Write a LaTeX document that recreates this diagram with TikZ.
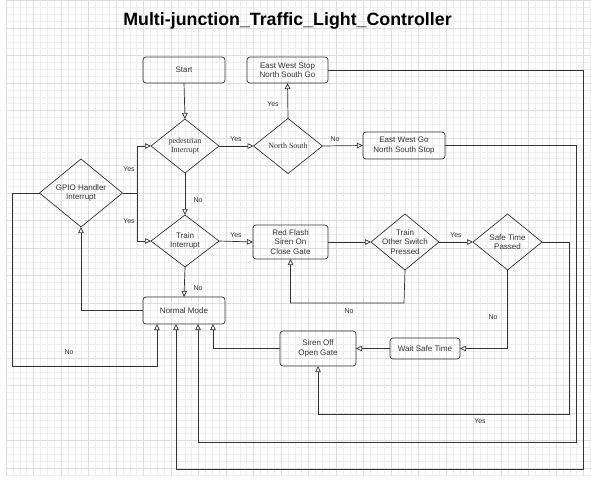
\documentclass[tikz,border=0pt]{standalone}
\usepackage{fontspec}
\setmainfont{Liberation Sans}
\newfontfamily\serifx{Liberation Serif}
\usetikzlibrary{shapes.geometric,arrows.meta,calc}
\definecolor{ln}{HTML}{333333}
\definecolor{gridminor}{HTML}{EEEEEE}
\definecolor{gridmajor}{HTML}{DDDDDD}
\tikzset{
  box/.style={draw=ln, line width=0.7pt, rounded corners=3pt, inner sep=0pt, outer sep=0pt,
    align=center, font=\fontsize{8}{9.5}\selectfont, text=ln},
  dia/.style={draw=ln, line width=0.7pt, diamond, inner sep=0pt, outer sep=0pt},
  arr/.style={draw=ln, line width=0.7pt, -{Triangle[open,length=6pt,width=5.5pt]}},
  lnk/.style={draw=ln, line width=0.7pt},
  lbl/.style={font=\fontsize{7}{8}\selectfont, text=ln, inner sep=0pt},
  dtext/.style={align=center, font=\fontsize{8}{9.5}\selectfont, text=ln}
}
\begin{document}
\begin{tikzpicture}[x=1pt,y=-1pt]
\useasboundingbox (0,0) rectangle (591,498);
% grid
\begin{scope}
\clip (6,0) rectangle (591,476);
\foreach \i in {0,...,86} {\draw[gridminor, line width=0.4pt] ({6+\i*6.875},0) -- ({6+\i*6.875},476);}
\foreach \j in {0,...,70} {\draw[gridminor, line width=0.4pt] (6,{0.5+\j*6.875}) -- (591,{0.5+\j*6.875});}
\foreach \i in {0,...,22} {\draw[gridmajor, line width=0.5pt] ({6+\i*27.5},0) -- ({6+\i*27.5},476);}
\foreach \j in {0,...,18} {\draw[gridmajor, line width=0.5pt] (6,{0.5+\j*27.5}) -- (591,{0.5+\j*27.5});}
\end{scope}
% title
\node[anchor=base, font=\fontsize{17.8}{20}\selectfont\bfseries, inner sep=0pt] (title) at (287.5,25) {Multi-junction\_Traffic\_Light\_Controller};

% nodes
\node[box, minimum width=82pt, minimum height=26pt] (start) at (184,70) {Start};
\node[dia, minimum width=68pt, minimum height=54pt,
  label={[dtext, font=\serifx\fontsize{8}{9.5}\selectfont]center:pedestrian\\Interrupt}] (ped) at (185,146) {};
\node[dia, minimum width=69pt, minimum height=55pt,
  label={[dtext, font=\serifx\fontsize{8}{9.5}\selectfont]center:North South}] (ns) at (288,146) {};
\node[box, minimum width=81pt, minimum height=26pt] (ewstop) at (287.5,70) {East West Stop\\North South Go};
\node[box, minimum width=82pt, minimum height=27pt] (ewgo) at (404,145.5) {East West Go\\North South Stop};
\node[dia, minimum width=83pt, minimum height=68pt,
  label={[dtext]center:GPIO Handler\\Interrupt}] (gpio) at (81,193) {};
\node[dia, minimum width=68pt, minimum height=52pt,
  label={[dtext]center:Train\\Interrupt}] (train) at (185,241) {};
\node[box, minimum width=75pt, minimum height=34pt] (red) at (290.5,242) {Red Flash\\Siren On\\Close Gate};
\node[dia, minimum width=68pt, minimum height=56pt,
  label={[dtext]center:Train\\Other Switch\\Pressed}] (tos) at (405,242) {};
\node[dia, minimum width=69pt, minimum height=56pt,
  label={[dtext]center:Safe Time\\Passed}] (safe) at (507.5,242) {};
\node[box, minimum width=82pt, minimum height=27pt] (normal) at (184,310.5) {Normal Mode};
\node[box, minimum width=76pt, minimum height=35pt] (siren) at (318,348.5) {Siren Off\\Open Gate};
\node[box, minimum width=70pt, minimum height=21pt] (wait) at (425,348.5) {Wait Safe Time};

% helper coordinates
\coordinate (gj) at (137,193);
\coordinate (c1) at (569,414);
\coordinate (c2) at (576,442);
\coordinate (c3) at (583,469);
\coordinate (c4) at (12,366);
\coordinate (c5) at (404,303);

% connectors
\draw[arr] (start.south) -- (ped.north);
\draw[arr] (ped.east) -- (ns.west);
\draw[arr] (ns.north) -- (ewstop.south);
\draw[arr] (ns.east) -- (ewgo.west);
\draw[arr] (ped.south) -- (train.north);
\draw[lnk] (gpio.east) -- (gj);
\draw[arr] (gj) |- (ped.west);
\draw[arr] (gj) |- (train.west);
\draw[arr] (train.east) -- (red.west);
\draw[arr] (red.east) -- (tos.west);
\draw[arr] (tos.east) -- (safe.west);
\draw[arr] (tos.south) -- (c5) -| (red.south);
\draw[arr] (safe.south) |- (wait.east);
\draw[arr] (wait.west) -- (siren.east);
\draw[arr] (safe.east) -| (c1) -| (siren.south);
\draw[arr] (siren.west) -| ([xshift=29pt]normal.south);
\draw[arr] (ewgo.east) -| (c2) -| ([xshift=14pt]normal.south);
\draw[arr] (ewstop.east) -| (c3) -| ([xshift=-8pt]normal.south);
\draw[arr] (gpio.west) -| (c4) -| ([xshift=-27pt]normal.south);
\draw[arr] (normal.west) -| (gpio.south);
\draw[arr] (train.south) -- (normal.north);

% labels
\node[lbl] (l1) at (236,139) {Yes};
\node[lbl] (l2) at (273,104) {Yes};
\node[lbl] (l3) at (335,139) {No};
\node[lbl] (l4) at (198,200) {No};
\node[lbl] (l5) at (129,169) {Yes};
\node[lbl] (l6) at (129,221) {Yes};
\node[lbl] (l7) at (236,235) {Yes};
\node[lbl] (l8) at (456,235) {Yes};
\node[lbl] (l9) at (349,311) {No};
\node[lbl] (l10) at (493,317) {No};
\node[lbl] (l11) at (480,421) {Yes};
\node[lbl] (l12) at (69,352) {No};
\node[lbl] (l13) at (198,288) {No};
\end{tikzpicture}
\end{document}
